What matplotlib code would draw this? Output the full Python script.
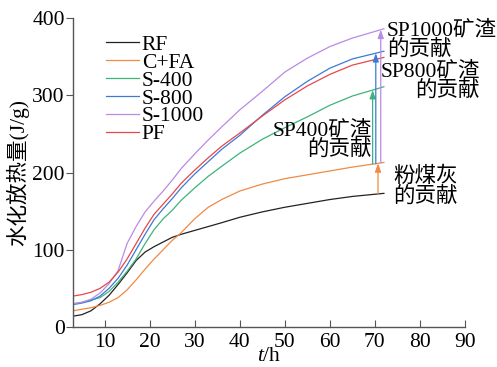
import numpy as np
import matplotlib
matplotlib.use("Agg")
import matplotlib.pyplot as plt

plt.rcParams['font.family'] = ['Liberation Serif', 'Noto Sans CJK SC', 'DejaVu Sans']
plt.rcParams['mathtext.fontset'] = 'custom'
plt.rcParams['mathtext.it'] = 'Liberation Serif:italic'
plt.rcParams['mathtext.rm'] = 'Liberation Serif'

t = [3, 5, 7, 9, 11, 13, 15, 17, 19, 21, 23, 25, 27, 30, 33, 36, 40, 45, 50, 55, 60, 65, 72]
rf    = [14, 16, 21, 30, 41, 55, 70, 86, 97, 104, 110, 116, 120, 125, 130, 135, 142, 149, 155, 160, 165, 169, 173]
cfa   = [21, 23, 25, 28, 32, 38, 48, 61, 75, 88, 100, 112, 122, 140, 155, 165, 176, 185, 192, 197, 202, 207, 213]
s400  = [30, 32, 35, 38, 46, 58, 72, 88, 108, 126, 140, 151, 164, 180, 195, 208, 225, 243, 258, 272, 287, 299, 311]
s800  = [29, 31, 34, 40, 50, 63, 80, 100, 120, 139, 153, 166, 180, 198, 214, 230, 248, 274, 298, 318, 335, 347, 357]
s1000 = [30, 32, 36, 44, 56, 73, 108, 130, 149, 163, 176, 190, 205, 224, 242, 259, 281, 305, 330, 348, 363, 374, 386]
pf    = [40, 42, 45, 50, 58, 71, 88, 108, 128, 146, 159, 172, 186, 203, 219, 234, 251, 273, 294, 312, 327, 339, 349]

labels = ['RF', 'C+FA', 'S-400', 'S-800', 'S-1000', 'PF']
colors = ['#222222', '#F08A45', '#3DB37A', '#3A7BD5', '#B98AE6', '#E8474B']
series = [rf, cfa, s400, s800, s1000, pf]

xticks = [10, 20, 30, 40, 50, 60, 70, 80, 90]
yticks = [0, 100, 200, 300, 400]

fig = plt.figure(figsize=(4.97, 3.67), dpi=100)
ax = fig.add_axes([73/497, 40/367, 392/497, 309/367])

for ys, lab, c in zip(series, labels, colors):
    ax.plot(t, ys, color=c, lw=0.9, label=lab)

ax.set_xlim(3, 90)
ax.set_ylim(0, 400)
ax.set_xticks(xticks)
ax.set_yticks(yticks)
for s in ['top', 'right']:
    ax.spines[s].set_visible(False)
for s in ['left', 'bottom']:
    ax.spines[s].set_color('#555555')
    ax.spines[s].set_linewidth(1.0)
ax.tick_params(axis='x', direction='in', length=5, color='#555555', labelsize=15.5, pad=4)
ax.tick_params(axis='y', direction='out', length=5, color='#555555', labelsize=15.5, pad=1)

ax.set_xlabel(r'$t$/h', fontsize=15.5, labelpad=-3)
ax.set_ylabel('水化放热量(J/g)', fontsize=15.5, labelpad=2)

leg = ax.legend(loc='upper left', bbox_to_anchor=(0.085, 0.946), frameon=False,
                fontsize=15.5, handlelength=1.5, handletextpad=0.15,
                labelspacing=-0.1, borderpad=0, borderaxespad=0)

# contribution arrows
ax_x = {'cfa': 70.7, 's400': 69.5, 's800': 70.2, 's1000': 71.3}
def arrow(x, lower, upper, color):
    y0 = np.interp(x, t, lower)
    y1 = np.interp(x, t, upper)
    ax.annotate('', xy=(x, y1), xytext=(x, y0),
                arrowprops=dict(arrowstyle='-|>,head_length=0.5,head_width=0.18',
                                color=color, lw=0.9, shrinkA=0, shrinkB=0))

arrow(ax_x['cfa'], rf, cfa, colors[1])
arrow(ax_x['s400'], cfa, s400, colors[2])
arrow(ax_x['s800'], cfa, s800, colors[3])
arrow(ax_x['s1000'], cfa, s1000, colors[4])

fs = 15.5
ls = 0.95
ax.text(72.7, 397, 'SP1000矿渣\n的贡献', fontsize=fs, ha='left', va='top',
        linespacing=ls, clip_on=False)
ax.text(93.3, 344, 'SP800矿渣\n的贡献', fontsize=fs, ha='right', va='top',
        multialignment='right', linespacing=ls, clip_on=False)
ax.text(69.3, 267, 'SP400矿渣\n的贡献', fontsize=fs, ha='right', va='top',
        multialignment='right', linespacing=ls)
ax.text(74.0, 207, '粉煤灰\n的贡献', fontsize=fs, ha='left', va='top',
        linespacing=ls)

fig.savefig('out.png', dpi=100)
